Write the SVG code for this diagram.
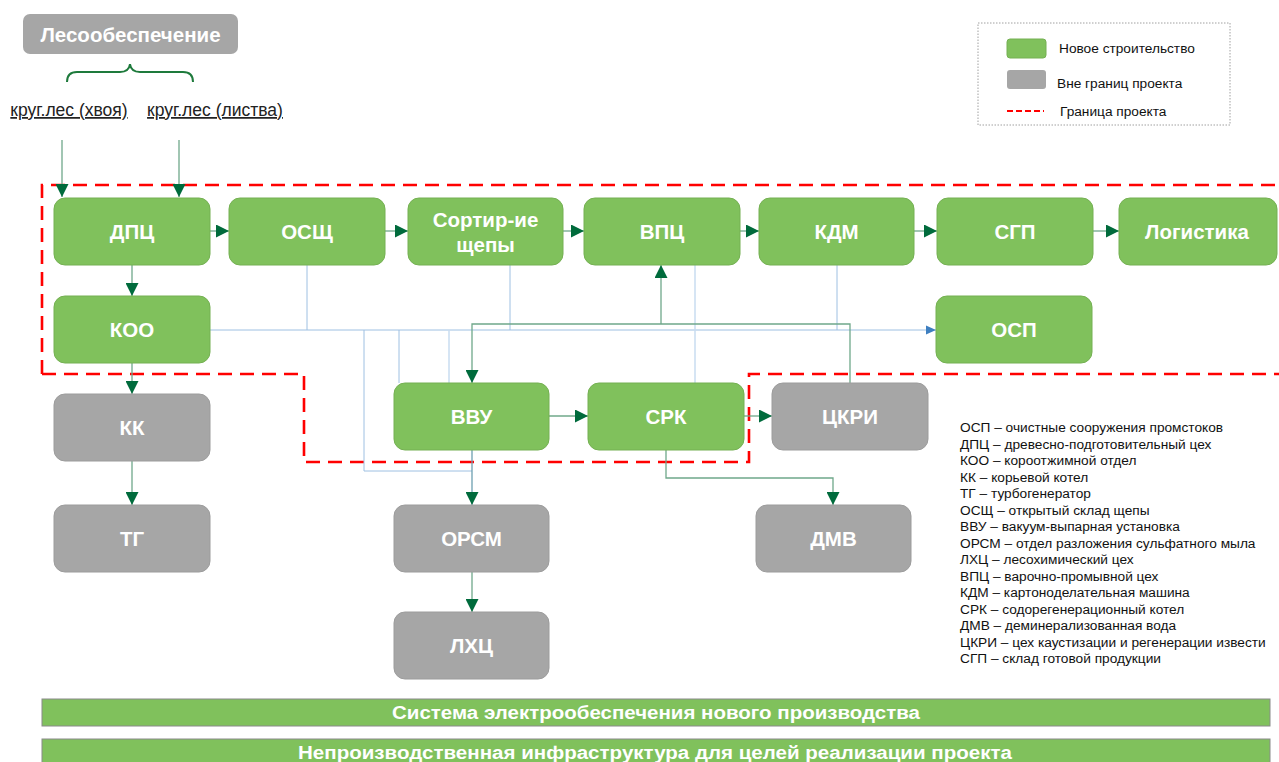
<svg xmlns="http://www.w3.org/2000/svg" width="1279" height="762" viewBox="0 0 1279 762">
<style>
.g{fill:#80C15C;stroke:#74B052;stroke-width:1}
.s{fill:#A6A6A6;stroke:#9C9C9C;stroke-width:1}
.t{font-family:"Liberation Sans",Arial,sans-serif;font-weight:bold;font-size:20.5px;fill:#fff;text-anchor:middle}
.cg{fill:none;stroke:#6FA88A;stroke-width:1.3}
.cb{fill:none;stroke:#9EC0E2;stroke-width:1}
.cbl{fill:none;stroke:#C9DDF0;stroke-width:1.5}
.bd{fill:none;stroke:#FF0000;stroke-width:2.6;stroke-dasharray:14 8}
.ab{font-family:"Liberation Sans",Arial,sans-serif;font-size:13.7px;fill:#111}
.lg{font-family:"Liberation Sans",Arial,sans-serif;font-size:13.7px;fill:#111}
.bar{fill:#80C15C;stroke:#8A8A8A;stroke-width:1}
.bt{font-family:"Liberation Sans Narrow","Liberation Sans",Arial,sans-serif;font-weight:bold;font-size:18px;fill:#fff;text-anchor:middle}
.src{font-family:"Liberation Sans",Arial,sans-serif;font-size:17.5px;fill:#222;text-anchor:middle;text-decoration:underline}
</style>
<defs>
<marker id="ah" markerUnits="userSpaceOnUse" markerWidth="13" markerHeight="13" refX="10" refY="5" orient="auto" viewBox="0 0 10 10">
<path d="M0,0 L10,5 L0,10 Z" fill="#006B3C"/>
</marker>
<marker id="abl" markerUnits="userSpaceOnUse" markerWidth="10" markerHeight="10" refX="9" refY="4" orient="auto" viewBox="0 0 9 8">
<path d="M0,0 L9,4 L0,8 Z" fill="#3E7FC0"/>
</marker>
</defs>
<rect width="1279" height="762" fill="#fff"/>

<g id="boundary">
<path class="bd" d="M42,374 L42,185 L1279,185"/>
<path class="bd" d="M42,374 L304,374 L304,462 L749,462 L749,374 L1279,374"/>
</g>

<g id="connectors">
<path class="cb" d="M210,330 L936,330" marker-end="url(#abl)"/>
<path class="cb" d="M307,265 L307,330"/>
<path class="cb" d="M510,265 L510,330"/>
<path class="cb" d="M837,265 L837,330"/>
<path class="cbl" d="M695,265 L695,383"/>
<path class="cb" d="M364,330 L364,471 L472,471"/>
<path class="cb" d="M399,330 L399,383"/>
<path class="cbl" d="M449,330 L449,383"/>
<path class="cg" d="M62,140 L62,197" marker-end="url(#ah)"/>
<path class="cg" d="M179,140 L179,197" marker-end="url(#ah)"/>
<path class="cg" d="M210,231 L229,231" marker-end="url(#ah)"/>
<path class="cg" d="M385,231 L408,231" marker-end="url(#ah)"/>
<path class="cg" d="M563,231 L584,231" marker-end="url(#ah)"/>
<path class="cg" d="M740,231 L759,231" marker-end="url(#ah)"/>
<path class="cg" d="M914,231 L937,231" marker-end="url(#ah)"/>
<path class="cg" d="M1093,231 L1119,231" marker-end="url(#ah)"/>
<path class="cg" d="M132,265 L132,296" marker-end="url(#ah)"/>
<path class="cg" d="M132,363 L132,394" marker-end="url(#ah)"/>
<path class="cg" d="M132,461 L132,505" marker-end="url(#ah)"/>
<path class="cg" d="M549,416 L588,416" marker-end="url(#ah)"/>
<path class="cg" d="M744,416 L772,416" marker-end="url(#ah)"/>
<path class="cg" d="M472,572 L472,612" marker-end="url(#ah)"/>
<path class="cg" d="M472,450 L472,505" style="stroke:#6C9FB0" marker-end="url(#ah)"/>
<path class="cg" d="M666,450 L666,478 L833,478 L833,505" marker-end="url(#ah)"/>
<path class="cg" d="M850,383 L850,324 L472,324 L472,383" marker-end="url(#ah)"/>
<path class="cg" d="M661,324 L661,265" marker-end="url(#ah)"/>
</g>

<g id="les">
<rect x="23" y="14" width="215" height="40" rx="7" fill="#A6A6A6"/>
<text class="t" x="130.5" y="42" font-size="21.5px">Лесообеспечение</text>
</g>
<g id="brace">
<path d="M67,82 Q67,72 77,72 L120,72 Q129,72 130,64 Q131,72 140,72 L183,72 Q193,72 193,82" fill="none" stroke="#1E7A3C" stroke-width="2"/>
</g>
<g id="src1"><text class="src" x="69" y="116">круг.лес (хвоя)</text></g>
<g id="src2"><text class="src" x="215" y="116">круг.лес (листва)</text></g>

<g id="dpc"><rect class="g" x="54" y="198" width="156" height="67" rx="11"/><text class="t" x="132" y="239">ДПЦ</text></g>
<g id="osch"><rect class="g" x="229" y="198" width="156" height="67" rx="11"/><text class="t" x="307" y="239">ОСЩ</text></g>
<g id="sort"><rect class="g" x="408" y="198" width="155" height="67" rx="11"/><text class="t" x="485.5" y="227" font-size="19px">Сортир-ие</text><text class="t" x="485.5" y="252" font-size="19px">щепы</text></g>
<g id="vpc"><rect class="g" x="584" y="198" width="156" height="67" rx="11"/><text class="t" x="662" y="239">ВПЦ</text></g>
<g id="kdm"><rect class="g" x="759" y="198" width="155" height="67" rx="11"/><text class="t" x="836.5" y="239">КДМ</text></g>
<g id="sgp"><rect class="g" x="937" y="198" width="156" height="67" rx="11"/><text class="t" x="1015" y="239">СГП</text></g>
<g id="log"><rect class="g" x="1119" y="198" width="158" height="67" rx="11"/><text class="t" x="1197" y="239">Логистика</text></g>
<g id="koo"><rect class="g" x="54" y="296" width="156" height="67" rx="11"/><text class="t" x="132" y="337">КОО</text></g>
<g id="osp"><rect class="g" x="936" y="296" width="156" height="67" rx="11"/><text class="t" x="1014" y="337">ОСП</text></g>
<g id="kk"><rect class="s" x="54" y="394" width="156" height="67" rx="11"/><text class="t" x="132" y="435">КК</text></g>
<g id="vvu"><rect class="g" x="394" y="383" width="155" height="67" rx="11"/><text class="t" x="471.5" y="424">ВВУ</text></g>
<g id="srk"><rect class="g" x="588" y="383" width="156" height="67" rx="11"/><text class="t" x="666" y="424">СРК</text></g>
<g id="ckri"><rect class="s" x="772" y="383" width="156" height="67" rx="11"/><text class="t" x="850" y="424">ЦКРИ</text></g>
<g id="tg"><rect class="s" x="54" y="505" width="156" height="67" rx="11"/><text class="t" x="132" y="546">ТГ</text></g>
<g id="orsm"><rect class="s" x="394" y="505" width="155" height="67" rx="11"/><text class="t" x="471.5" y="546">ОРСМ</text></g>
<g id="dmv"><rect class="s" x="756" y="505" width="155" height="67" rx="11"/><text class="t" x="833.5" y="546">ДМВ</text></g>
<g id="lhc"><rect class="s" x="394" y="612" width="155" height="67" rx="11"/><text class="t" x="471.5" y="653">ЛХЦ</text></g>

<g id="legend">
<rect x="978" y="23" width="252" height="102" fill="#fff" stroke="#A0A0A0" stroke-width="1" stroke-dasharray="1.5 1.5"/>
<rect x="1007" y="39" width="39" height="19" rx="3" fill="#80C15C" stroke="#74B052"/>
<text class="lg" x="1059" y="53">Новое строительство</text>
<rect x="1007" y="70" width="39" height="19" rx="3" fill="#A6A6A6"/>
<text class="lg" x="1057" y="88">Вне границ проекта</text>
<path d="M1007,111 L1044,111" stroke="#FF0000" stroke-width="2" stroke-dasharray="6 3"/>
<text class="lg" x="1060" y="116">Граница проекта</text>
</g>

<g id="abbr">
<text class="ab" x="960" y="432">ОСП – очистные сооружения промстоков</text>
<text class="ab" x="960" y="448.5">ДПЦ – древесно-подготовительный цех</text>
<text class="ab" x="960" y="465">КОО – короотжимной отдел</text>
<text class="ab" x="960" y="481.5">КК – корьевой котел</text>
<text class="ab" x="960" y="498">ТГ – турбогенератор</text>
<text class="ab" x="960" y="514.5">ОСЩ – открытый склад щепы</text>
<text class="ab" x="960" y="531">ВВУ – вакуум-выпарная установка</text>
<text class="ab" x="960" y="547.5">ОРСМ – отдел разложения сульфатного мыла</text>
<text class="ab" x="960" y="564">ЛХЦ – лесохимический цех</text>
<text class="ab" x="960" y="580.5">ВПЦ – варочно-промывной цех</text>
<text class="ab" x="960" y="597">КДМ – картоноделательная машина</text>
<text class="ab" x="960" y="613.5">СРК – содорегенерационный котел</text>
<text class="ab" x="960" y="630">ДМВ – деминерализованная вода</text>
<text class="ab" x="960" y="646.5">ЦКРИ – цех каустизации и регенерации извести</text>
<text class="ab" x="960" y="663">СГП – склад готовой продукции</text>
</g>

<g id="bar1">
<rect class="bar" x="42" y="699" width="1228" height="27"/>
<text class="bt" x="656" y="719" textLength="528" lengthAdjust="spacingAndGlyphs">Система электрообеспечения нового производства</text>
</g>
<g id="bar2">
<rect class="bar" x="42" y="739" width="1228" height="30"/>
<text class="bt" x="655" y="759" textLength="714" lengthAdjust="spacingAndGlyphs">Непроизводственная инфраструктура для целей реализации проекта</text>
</g>
</svg>
